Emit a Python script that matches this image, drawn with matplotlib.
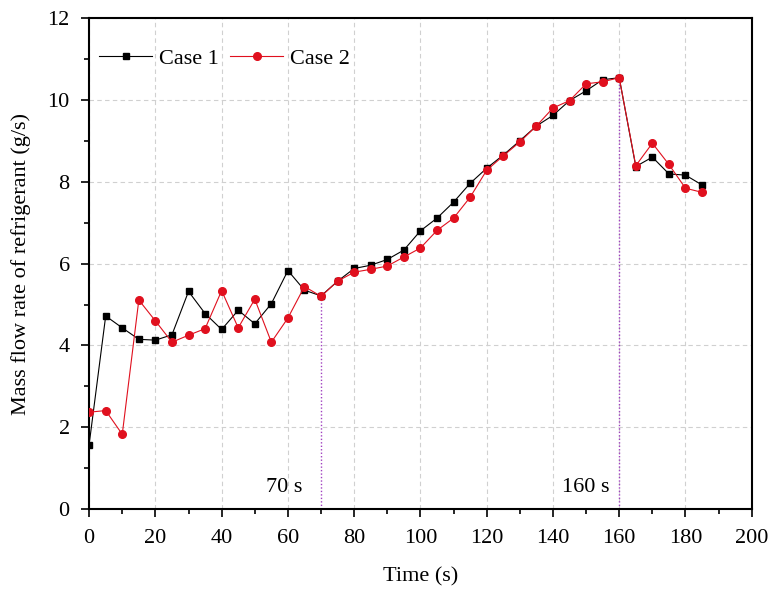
import numpy as np
import matplotlib
matplotlib.use("Agg")
import matplotlib.pyplot as plt
from matplotlib.ticker import MultipleLocator

# Time axis (s), sampled every 5 s
time_s = list(range(0, 190, 5))

case1 = [1.58, 4.72, 4.43, 4.15, 4.13, 4.26, 5.32, 4.78, 4.39, 4.86,
         4.53, 5.02, 5.83, 5.35, 5.21, 5.57, 5.88, 5.96, 6.10, 6.33,
         6.80, 7.11, 7.50, 7.96, 8.33, 8.65, 9.00, 9.36, 9.62, 9.98,
         10.22, 10.49, 10.54, 8.37, 8.60, 8.19, 8.16, 7.92]

case2 = [2.37, 2.41, 1.83, 5.11, 4.60, 4.08, 4.25, 4.41, 5.34, 4.43,
         5.13, 4.08, 4.67, 5.44, 5.20, 5.57, 5.79, 5.86, 5.94, 6.16,
         6.38, 6.81, 7.11, 7.62, 8.28, 8.63, 8.97, 9.36, 9.80, 9.98,
         10.39, 10.44, 10.54, 8.39, 8.94, 8.42, 7.84, 7.74]

marker_times = [70, 160]
marker_labels = ["70 s", "160 s"]

plt.rcParams["font.family"] = ["Liberation Serif", "DejaVu Serif"]
plt.rcParams["font.size"] = 16

fig = plt.figure(figsize=(7.75, 5.97), dpi=100)
ax = fig.add_axes([0.115, 0.147, 0.855, 0.823])

ax.plot(time_s, case1, color="black", marker="s", markersize=5, linewidth=0.8,
        label="Case 1", zorder=3)
ax.plot(time_s, case2, color="#e0101e", marker="o", markersize=5.5, linewidth=0.8,
        markeredgecolor="#e0101e", label="Case 2", zorder=3)

# dotted markers at the phase changes
label_offsets = [-5.5, -2.8]
for t, lab, off in zip(marker_times, marker_labels, label_offsets):
    yv = case1[time_s.index(t)]
    ax.plot([t, t], [0, yv], color="#a040c0", linestyle=(0, (1, 1.5)), linewidth=1.0, zorder=2)
    ax.text(t + off, 0.3, lab, ha="right", va="bottom", fontsize=16)

ax.set_xlim(0, 200)
ax.set_ylim(0, 12)
ax.xaxis.set_major_locator(MultipleLocator(20))
ax.xaxis.set_minor_locator(MultipleLocator(10))
ax.yaxis.set_major_locator(MultipleLocator(2))
ax.yaxis.set_minor_locator(MultipleLocator(1))
ax.tick_params(which="both", direction="out", top=False, right=False, width=1.2)
ax.tick_params(which="major", length=6, pad=8)
ax.tick_params(which="minor", length=3.5)
ax.grid(True, which="major", color="#d0d0d0", linestyle=(0, (4, 3)), linewidth=0.8)
ax.set_axisbelow(True)
for sp in ax.spines.values():
    sp.set_linewidth(1.5)

ax.set_xlabel("Time (s)", labelpad=14)
ax.set_ylabel("Mass flow rate of refrigerant (g/s)", labelpad=12)

ax.legend(loc="upper left", ncol=2, frameon=False, handlelength=2.4,
          columnspacing=0.5, handletextpad=0.3, bbox_to_anchor=(-0.012, 0.975),
          borderaxespad=0.4)

fig.savefig("out.png", dpi=100)
